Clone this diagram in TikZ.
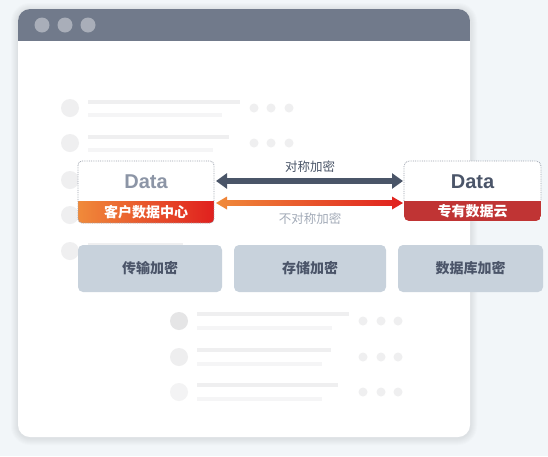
\documentclass[tikz,border=0pt]{standalone}
\usepackage{fontspec}
\setmainfont{Noto Sans CJK SC}
\newfontfamily\cjk{Noto Sans CJK SC}
\newfontfamily\latinsans{Liberation Sans}
\usetikzlibrary{calc,arrows.meta}
\definecolor{bgc}{HTML}{F2F6F9}
\definecolor{barc}{HTML}{717A8B}
\definecolor{dotc}{HTML}{A9AEB9}
\definecolor{lineA}{HTML}{EFEFF0}
\definecolor{lineB}{HTML}{F5F5F6}
\definecolor{dataL}{HTML}{8C95A6}
\definecolor{dataR}{HTML}{4B5569}
\definecolor{arrD}{HTML}{4A5568}
\definecolor{orA}{HTML}{F08A3A}
\definecolor{orB}{HTML}{E0201E}
\definecolor{redband}{HTML}{C03434}
\definecolor{boxc}{HTML}{C8D2DC}
\definecolor{lab2}{HTML}{A3ABB8}
\definecolor{borderc}{HTML}{9AA0AC}
\definecolor{shc}{HTML}{5A6070}
\tikzset{
  datatxt/.style={font=\latinsans\bfseries\fontsize{20}{20}\selectfont, inner sep=0},
  bandtxt/.style={font=\cjk\bfseries\fontsize{14}{14}\selectfont, text=white, inner sep=0},
  encbox/.style={fill=boxc, rounded corners=5pt, minimum height=47pt, inner sep=0,
     text=dataR, font=\cjk\bfseries\fontsize{14}{14}\selectfont},
  arrlabel/.style={font=\cjk\fontsize{12.5}{12.5}\selectfont, inner sep=0},
}
\begin{document}
\begin{tikzpicture}[x=1pt,y=-1pt]
\fill[bgc] (0,0) rectangle (548,456);
\useasboundingbox (0,0) rectangle (548,456);
% window shadow
\foreach \i in {1,...,7} {
  \fill[shc, opacity=0.018, rounded corners={12pt+\i pt}] (18-\i,9-\i+1) rectangle (470+\i,437+\i+1);
}
% window
\fill[white, rounded corners=12pt] (18,9) rectangle (470,437);
\begin{scope}
  \clip[rounded corners=12pt] (18,9) rectangle (470,437);
  \fill[barc] (18,9) rectangle (470,41);
\end{scope}
\foreach \x in {42,65,88} \fill[dotc] (\x,25) circle (7.5);
% ghost list, group 1
\foreach \y/\la/\lb in {108/240/222, 143/229/213} {
  \fill[lineA] (70,\y) circle (9);
  \fill[lineA] (88,\y-8.5) rectangle (\la,\y-4);
  \fill[lineB] (88,\y+5) rectangle (\lb,\y+8.5);
  \foreach \x in {254,271,289} \fill[lineA] (\x,\y) circle (4.5);
}
\foreach \y/\la in {180/200, 215/200, 251/183} {
  \fill[lineA] (70,\y) circle (9);
  \fill[lineA] (88,\y-8.5) rectangle (\la,\y-4);
}
% ghost list, group 2
\foreach \y/\la/\lb/\c in {321/349/332/E5E5E6, 357/331/322/EEEEEF, 392/338/322/F3F3F4} {
  \definecolor{cc}{HTML}{\c}
  \fill[cc] (179,\y) circle (9);
  \fill[lineA] (197,\y-9) rectangle (\la,\y-5);
  \fill[lineB] (197,\y+5) rectangle (\lb,\y+8.5);
  \foreach \x in {363,381,398} \fill[lineA] (\x,\y) circle (4.5);
}
% left data box
\node[fill=white, rounded corners=4pt, minimum width=136pt, minimum height=62pt, inner sep=0] (L) at (146,192) {};
\begin{scope}
  \clip[rounded corners=4pt] (78,161) rectangle (214,223);
  \shade[left color=orA, right color=orB] (78,201) rectangle (214,223);
\end{scope}
\draw[borderc, densely dotted, rounded corners=4pt, line width=0.8pt] (78,161) rectangle (214,223);
\node[datatxt, text=dataL] (Lt) at (146,182) {Data};
\node[bandtxt] (Lb) at (146,212) {客户数据中心};
% right data box
\node[fill=white, rounded corners=5pt, minimum width=137pt, minimum height=60pt, inner sep=0] (R) at (472.5,191) {};
\begin{scope}
  \clip[rounded corners=5pt] (404,161) rectangle (541,221);
  \fill[redband] (404,201) rectangle (541,221);
\end{scope}
\draw[borderc, densely dotted, line width=0.8pt, rounded corners=5pt] (404,201) -- (404,161) -- (541,161) -- (541,201);
\node[datatxt, text=dataR] (Rt) at (472.5,182) {Data};
\node[bandtxt] (Rb) at (472.5,211) {专有数据云};
% arrows
\coordinate (d1) at (216,181);
\coordinate (d2) at (403,181);
\draw[arrD, line width=6.5pt, {Triangle[width=15pt,length=11pt]}-{Triangle[width=15pt,length=11pt]}] (d1) -- (d2);
\node[arrlabel, text=arrD] (s1) at (310,167) {对称加密};
\coordinate (o1) at (216,203);
\coordinate (o2) at (403,203);
\shade[left color=orA, right color=orB]
  (o1) -- ($(o1)+(11,-6.5)$) -- ($(o1)+(11,-2.8)$) -- ($(o2)+(-11,-2.8)$) -- ($(o2)+(-11,-6.5)$)
  -- (o2) -- ($(o2)+(-11,6.5)$) -- ($(o2)+(-11,2.8)$) -- ($(o1)+(11,2.8)$) -- ($(o1)+(11,6.5)$) -- cycle;
\node[arrlabel, text=lab2] (s2) at (310,219) {不对称加密};
% encryption boxes
\node[encbox, minimum width=144pt] (b1) at (150,268.5) {传输加密};
\node[encbox, minimum width=152pt] (b2) at (310,268.5) {存储加密};
\node[encbox, minimum width=145pt] (b3) at (470.5,268.5) {数据库加密};
\end{tikzpicture}
\end{document}
